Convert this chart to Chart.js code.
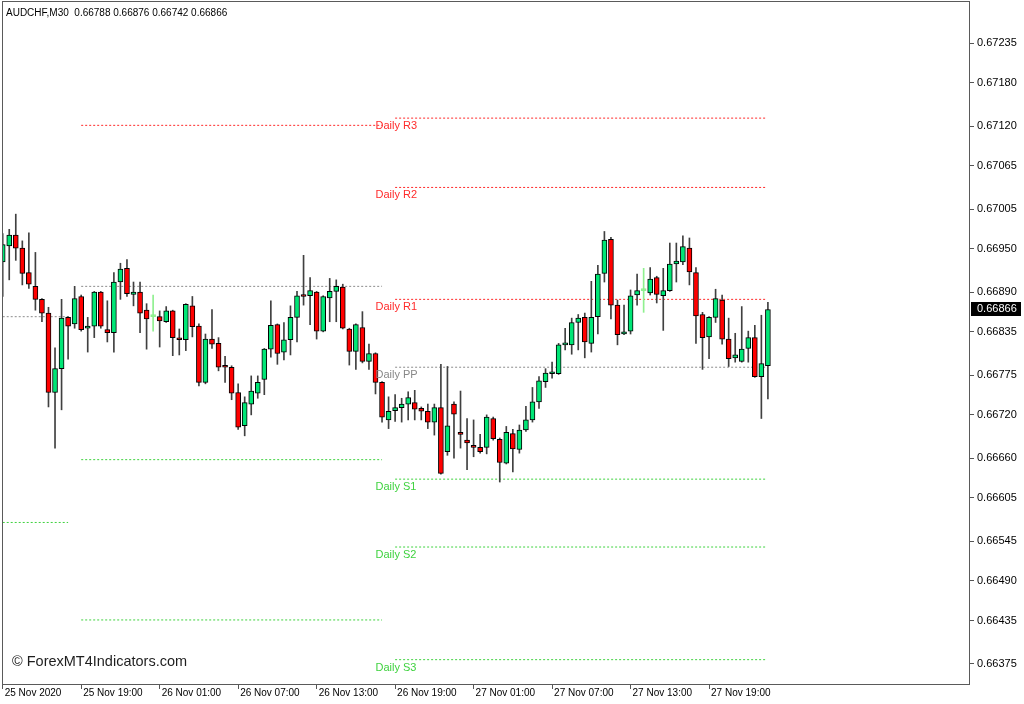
<!DOCTYPE html>
<html lang="en">
<head>
<meta charset="UTF-8">
<title>AUDCHF,M30</title>
<script src="https://cdn.jsdelivr.net/npm/chart.js"></script>
<style>
  html, body { margin: 0; padding: 0; background: #fff; }
  #wrap { width: 1024px; height: 704px; position: relative; }
</style>
</head>
<body>
<div id="wrap"><canvas id="grafico"></canvas></div>
<script>
// AUDCHF M30 candles, 25 Nov 13:00 -> 27 Nov 23:30
const symbolTitle = 'AUDCHF,M30';
const opens = [0.66932,0.66954,0.66969,0.66951,0.66917,0.66898,0.66880,0.66861,0.66751,0.66784,
  0.66855,0.66846,0.66884,0.66840,0.66843,0.66890,0.66838,0.66834,0.66904,0.66923,
  0.66887,0.66890,0.66865,0.66856,0.66856,0.66849,0.66864,0.66825,0.66824,0.66871,
  0.66843,0.66765,0.66825,0.66819,0.66788,0.66786,0.66751,0.66705,0.66735,0.66750,
  0.66769,0.66811,0.66845,0.66807,0.66824,0.66855,0.66886,0.66885,0.66890,0.66836,
  0.66882,0.66891,0.66897,0.66839,0.66808,0.66841,0.66794,0.66805,0.66765,0.66713,
  0.66726,0.66730,0.66735,0.66737,0.66729,0.66725,0.66710,0.66730,0.66669,0.66735,
  0.66694,0.66685,0.66676,0.66675,0.66675,0.66715,0.66686,0.66653,0.66694,0.66672,
  0.66699,0.66713,0.66738,0.66766,0.66777,0.66777,0.66817,0.66817,0.66848,0.66855,
  0.66819,0.66856,0.66916,0.66963,0.66872,0.66832,0.66836,0.66886,0.66892,0.66889,
  0.66910,0.66885,0.66892,0.66929,0.66932,0.66951,0.66917,0.66859,0.66828,0.66855,
  0.66879,0.66825,0.66799,0.66794,0.66812,0.66827,0.66773,0.66788];
const highs = [0.66971,0.66977,0.66998,0.66961,0.66972,0.66945,0.66881,0.66869,0.66813,0.66880,
  0.66856,0.66898,0.66886,0.66855,0.66891,0.66891,0.66878,0.66917,0.66930,0.66935,
  0.66904,0.66904,0.66874,0.66886,0.66864,0.66870,0.66865,0.66839,0.66874,0.66884,
  0.66846,0.66832,0.66866,0.66827,0.66801,0.66788,0.66763,0.66745,0.66774,0.66774,
  0.66812,0.66878,0.66846,0.66848,0.66871,0.66891,0.66941,0.66910,0.66891,0.66885,
  0.66909,0.66907,0.66901,0.66840,0.66846,0.66863,0.66818,0.66806,0.66766,0.66745,
  0.66748,0.66743,0.66752,0.66754,0.66731,0.66735,0.66735,0.66790,0.66787,0.66738,
  0.66753,0.66715,0.66713,0.66693,0.66720,0.66717,0.66688,0.66704,0.66700,0.66706,
  0.66732,0.66758,0.66773,0.66784,0.66793,0.66819,0.66840,0.66854,0.66859,0.66861,
  0.66905,0.66927,0.66974,0.66966,0.66879,0.66872,0.66893,0.66915,0.66923,0.66924,
  0.66912,0.66923,0.66958,0.66958,0.66968,0.66965,0.66924,0.66862,0.66856,0.66894,
  0.66886,0.66854,0.66833,0.66870,0.66836,0.66844,0.66858,0.66876];
const lows = [0.66884,0.66907,0.66934,0.66900,0.66895,0.66865,0.66849,0.66731,0.66674,0.66727,
  0.66797,0.66840,0.66836,0.66807,0.66827,0.66840,0.66821,0.66807,0.66880,0.66884,
  0.66871,0.66834,0.66811,0.66836,0.66814,0.66848,0.66802,0.66803,0.66809,0.66828,
  0.66760,0.66763,0.66812,0.66781,0.66765,0.66741,0.66700,0.66691,0.66720,0.66743,
  0.66748,0.66800,0.66790,0.66796,0.66803,0.66821,0.66872,0.66845,0.66825,0.66835,
  0.66849,0.66849,0.66839,0.66789,0.66783,0.66792,0.66783,0.66749,0.66710,0.66701,
  0.66711,0.66710,0.66713,0.66713,0.66713,0.66701,0.66692,0.66638,0.66664,0.66660,
  0.66674,0.66644,0.66662,0.66667,0.66666,0.66685,0.66627,0.66652,0.66641,0.66667,
  0.66697,0.66710,0.66729,0.66758,0.66771,0.66776,0.66810,0.66804,0.66810,0.66799,
  0.66807,0.66832,0.66904,0.66853,0.66817,0.66831,0.66832,0.66872,0.66862,0.66886,
  0.66875,0.66837,0.66891,0.66904,0.66928,0.66900,0.66819,0.66783,0.66798,0.66848,
  0.66818,0.66787,0.66793,0.66793,0.66793,0.66772,0.66715,0.66742];
const closes = [0.66956,0.66969,0.66951,0.66916,0.66901,0.66880,0.66861,0.66751,0.66784,0.66854,
  0.66843,0.66881,0.66838,0.66843,0.66890,0.66843,0.66834,0.66904,0.66922,0.66888,
  0.66890,0.66861,0.66853,0.66856,0.66850,0.66864,0.66827,0.66824,0.66873,0.66842,
  0.66765,0.66825,0.66818,0.66786,0.66786,0.66750,0.66703,0.66737,0.66753,0.66765,
  0.66811,0.66844,0.66805,0.66824,0.66855,0.66885,0.66884,0.66892,0.66836,0.66884,
  0.66891,0.66898,0.66840,0.66808,0.66845,0.66794,0.66805,0.66765,0.66717,0.66725,
  0.66730,0.66735,0.66744,0.66728,0.66725,0.66710,0.66730,0.66639,0.66705,0.66721,
  0.66693,0.66681,0.66675,0.66669,0.66717,0.66687,0.66654,0.66696,0.66673,0.66699,
  0.66713,0.66738,0.66767,0.66778,0.66778,0.66817,0.66818,0.66848,0.66854,0.66821,
  0.66855,0.66915,0.66962,0.66872,0.66831,0.66835,0.66885,0.66892,0.66892,0.66908,
  0.66887,0.66892,0.66929,0.66933,0.66953,0.66918,0.66857,0.66827,0.66855,0.66881,
  0.66825,0.66798,0.66803,0.66811,0.66827,0.66773,0.66791,0.66866];

// eixo de tempo (indice da barra -> texto)
const timeTickBars = [0, 12, 24, 36, 48, 60, 72, 84, 96, 108];
const timeTickLabels = ['25 Nov 2020', '25 Nov 19:00', '26 Nov 01:00', '26 Nov 07:00', '26 Nov 13:00',
  '26 Nov 19:00', '27 Nov 01:00', '27 Nov 07:00', '27 Nov 13:00', '27 Nov 19:00'];

// eixo de preco
const priceTicks = [0.67235, 0.67180, 0.67120, 0.67065, 0.67005, 0.66950, 0.66890, 0.66835,
  0.66775, 0.66720, 0.66660, 0.66605, 0.66545, 0.66490, 0.66435, 0.66375];

// pivots diarios: faixa de barras de cada dia e os niveis
const daySpans = [[0, 10], [12, 58], [60, 116.6]];
const dayR3 = [null, null, 0.67131];
const dayR2 = [null, null, 0.67035];
const dayR1 = [null, 0.67121, 0.66880];
const dayPP = [0.66856, 0.66898, 0.66786];
const dayS1 = [0.66571, 0.66658, 0.66631];
const dayS2 = [null, 0.66436, 0.66537];
const dayS3 = [null, null, 0.66381];

const corAlta = '#00e676';
const corBaixa = '#ff0000';
const corDoji = '#8ff08f';
const corPavio = '#404040';
const corR = '#ff2a2a';
const corPP = '#8c8c8c';
const corS = '#3fd23f';

Chart.defaults.font.family = 'Liberation Sans';

let corpoCores = [];
let corpoBordas = [];
let pavioCores = [];
for (let i = 0; i < opens.length; i++) {
    if (closes[i] > opens[i]) {
        corpoCores.push(corAlta); corpoBordas.push('#000'); pavioCores.push(corPavio);
    } else if (closes[i] < opens[i]) {
        corpoCores.push(corBaixa); corpoBordas.push('#000'); pavioCores.push(corPavio);
    } else {
        corpoCores.push(corDoji); corpoBordas.push(corDoji); pavioCores.push(corDoji);
    }
}

let pavios = opens.map((o, i) => ({ x: i, y: [lows[i], highs[i]] }));
let corpos = opens.map((o, i) => ({ x: i, y: [o, closes[i]] }));

function linhaPivot(niveis, cor) {
    let sets = [];
    for (let d = 0; d < daySpans.length; d++) {
        if (niveis[d] === null) continue;
        sets.push({
            type: 'line',
            data: [{ x: daySpans[d][0], y: niveis[d] }, { x: daySpans[d][1], y: niveis[d] }],
            borderColor: cor,
            borderWidth: 1,
            borderDash: [2, 2],
            pointRadius: 0,
            order: 3
        });
    }
    return sets;
}

let datasets = [
    ...linhaPivot(dayR3, corR), ...linhaPivot(dayR2, corR), ...linhaPivot(dayR1, corR),
    ...linhaPivot(dayPP, corPP),
    ...linhaPivot(dayS1, corS), ...linhaPivot(dayS2, corS), ...linhaPivot(dayS3, corS),
    {
        type: 'bar', data: pavios, backgroundColor: pavioCores,
        barThickness: 1, grouped: false, order: 2
    },
    {
        type: 'bar', data: corpos, backgroundColor: corpoCores, borderColor: corpoBordas,
        borderWidth: 1, borderSkipped: false, barThickness: 5, minBarLength: 2,
        grouped: false, order: 1
    }
];

// textos dos pivots do ultimo dia
const rotulos = [
    ['Daily R3', dayR3[2], corR], ['Daily R2', dayR2[2], corR], ['Daily R1', dayR1[2], corR],
    ['Daily PP', dayPP[2], '#888888'],
    ['Daily S1', dayS1[2], corS], ['Daily S2', dayS2[2], corS], ['Daily S3', dayS3[2], corS]
];

const extras = {
    id: 'extras',
    afterDraw(chart) {
        const ctx = chart.ctx;
        const a = chart.chartArea;
        const sx = chart.scales.x;
        const sy = chart.scales.y;
        ctx.save();

        // moldura
        ctx.strokeStyle = '#5a5a5a';
        ctx.lineWidth = 1;
        ctx.strokeRect(a.left + 0.5, a.top + 0.5, a.right - a.left - 1, a.bottom - a.top - 1);

        // rotulos dos pivots
        ctx.font = '11px Liberation Sans';
        ctx.textBaseline = 'middle';
        ctx.textAlign = 'left';
        let xr = sx.getPixelForValue(57);
        rotulos.forEach(r => {
            ctx.fillStyle = r[2];
            ctx.fillText(r[0], xr, sy.getPixelForValue(r[1]) + 8);
        });

        // cabecalho
        ctx.fillStyle = '#000';
        ctx.font = '10px Liberation Sans';
        let ult = opens.length - 1;
        ctx.fillText(symbolTitle + '  ' + opens[ult].toFixed(5) + ' ' + highs[ult].toFixed(5) + ' ' +
            lows[ult].toFixed(5) + ' ' + closes[ult].toFixed(5), 6, 13);

        // marca d'agua
        ctx.fillStyle = '#1e1e1e';
        ctx.font = '14.5px Liberation Sans';
        ctx.fillText('\u00a9 ForexMT4Indicators.com', 12, 662);

        // preco atual
        let yc = Math.round(sy.getPixelForValue(closes[ult]));
        ctx.fillStyle = '#000';
        ctx.fillRect(a.right + 1, yc - 7, 50, 14);
        ctx.fillStyle = '#fff';
        ctx.font = '11px Liberation Sans';
        ctx.fillText(closes[ult].toFixed(5), a.right + 7, yc);
        ctx.restore();
    }
};

new Chart(document.getElementById('grafico'), {
    type: 'bar',
    data: { datasets: datasets },
    plugins: [extras],
    options: {
        responsive: true,
        maintainAspectRatio: false,
        animation: false,
        layout: { padding: { left: 2, top: 1, right: 0, bottom: 0 } },
        plugins: { legend: { display: false }, tooltip: { enabled: false } },
        scales: {
            x: {
                type: 'linear',
                position: 'bottom',
                offset: false,
                min: -0.107,
                max: 147.9,
                afterBuildTicks: s => { s.ticks = timeTickBars.map(v => ({ value: v })); },
                afterFit: s => { s.height = 19; s.paddingLeft = 0; s.paddingRight = 0; },
                grid: { offset: false, drawOnChartArea: false, tickLength: 4, color: '#555' },
                border: { display: false },
                ticks: {
                    autoSkip: false, maxRotation: 0, align: 'start', padding: -2, labelOffset: 2,
                    color: '#000', font: { size: 10 },
                    callback: (v, i) => timeTickLabels[i]
                }
            },
            y: {
                type: 'linear',
                position: 'right',
                beginAtZero: false,
                min: 0.663459,
                max: 0.672932,
                afterBuildTicks: s => { s.ticks = priceTicks.map(v => ({ value: v })); },
                afterFit: s => { s.width = 54; s.paddingTop = 0; s.paddingBottom = 0; },
                grid: { drawOnChartArea: false, tickLength: 4, color: '#555' },
                border: { display: false },
                ticks: {
                    padding: 3, color: '#000', font: { size: 11 },
                    callback: v => v.toFixed(5)
                }
            }
        }
    }
});
</script>
</body>
</html>
